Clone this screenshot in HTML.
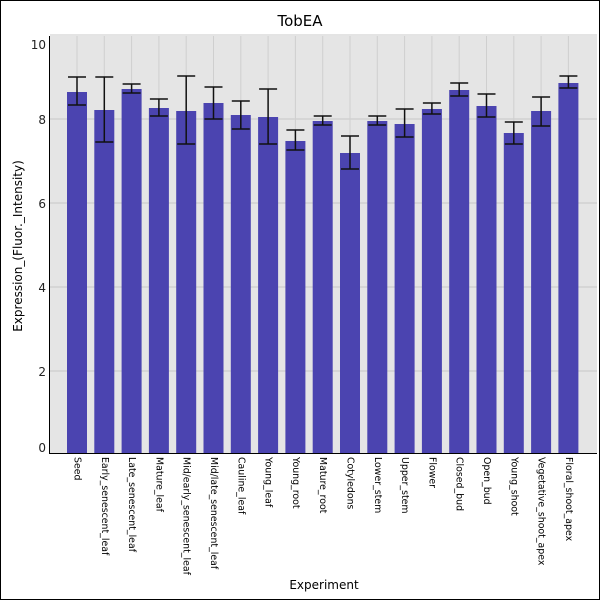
<!DOCTYPE html>
<html><head><meta charset="utf-8"><style>
body{margin:0;background:#fff}
svg{display:block;font-family:"DejaVu Sans","Liberation Sans",sans-serif}
</style></head><body>
<svg width="600" height="600" viewBox="0 0 600 600">
<rect x="0.5" y="0.5" width="599" height="599" fill="#fff" stroke="#000"/>
<text x="300" y="26" font-size="15" text-anchor="middle">TobEA</text>
<rect x="50" y="36" width="547" height="417" fill="#e5e5e5"/>
<g stroke="#c8c8c8" stroke-width="1">
<line x1="50" x2="597" y1="119" y2="119"/><line x1="50" x2="597" y1="203" y2="203"/>
<line x1="50" x2="597" y1="287" y2="287"/><line x1="50" x2="597" y1="371" y2="371"/>
<line x1="50" x2="597" y1="35" y2="35"/>
</g>
<g id="bars"></g>
<line x1="49.5" y1="36" x2="49.5" y2="454" stroke="#000"/>
<line x1="49" y1="453.5" x2="597" y2="453.5" stroke="#000"/>
<g font-size="12" text-anchor="end" fill="#222">
<text x="46" y="49">10</text><text x="46" y="124">8</text><text x="46" y="208">6</text>
<text x="46" y="292">4</text><text x="46" y="376">2</text><text x="46" y="452">0</text>
</g>
<text transform="translate(22,246) rotate(-90)" font-size="12" text-anchor="middle">Expression_(Fluor._Intensity)</text>
<text x="324" y="589" font-size="12" text-anchor="middle">Experiment</text>
<g id="labels" font-size="9.4"></g>
</svg>
<script>
var d=[["Seed",92,77,105],["Early_senescent_leaf",110,77,142],["Late_senescent_leaf",89,84,93],["Mature_leaf",108,99,116],["Mid/early_senescent_leaf",111,76,144],["Mid/late_senescent_leaf",103,87,119],["Cauline_leaf",115,101,129],["Young_leaf",117,89,144],["Young_root",141,130,150],["Mature_root",121,116,125],["Cotyledons",153,136,169],["Lower_stem",121,116,125],["Upper_stem",124,109,137],["Flower",109,103,114],["Closed_bud",90,83,96],["Open_bud",106,94,117],["Young_shoot",133,122,144],["Vegetative_shoot_apex",111,97,126],["Floral_shoot_apex",83,76,88]];
var b="",l="";
d.forEach(function(r,i){var c=77+i*27.3;
b+='<line x1="'+c+'" x2="'+c+'" y1="36" y2="453" stroke="#cfcfcf"/>';});
d.forEach(function(r,i){var c=77+i*27.3;
b+='<rect x="'+(c-10)+'" y="'+r[1]+'" width="20" height="'+(453-r[1])+'" fill="#4b44b0"/>';
b+='<g stroke="#111" stroke-width="1.5"><line x1="'+c+'" x2="'+c+'" y1="'+r[2]+'" y2="'+r[3]+'"/><line x1="'+(c-9)+'" x2="'+(c+9)+'" y1="'+r[2]+'" y2="'+r[2]+'"/><line x1="'+(c-9)+'" x2="'+(c+9)+'" y1="'+r[3]+'" y2="'+r[3]+'"/></g>';
l+='<text transform="translate('+(c-2.5)+',457) rotate(90)">'+r[0]+'</text>';});
document.getElementById("bars").innerHTML=b;document.getElementById("labels").innerHTML=l;
</script>
</body></html>
